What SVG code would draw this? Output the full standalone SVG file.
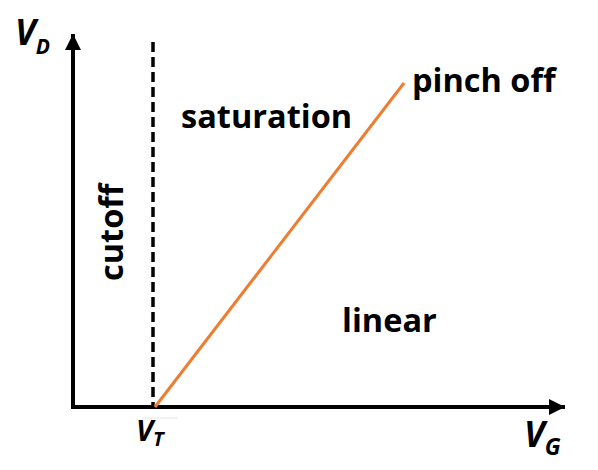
<svg xmlns="http://www.w3.org/2000/svg" width="598" height="470" viewBox="0 0 598 470">
<style>
.t{font-family:"Open Sans","Liberation Sans",sans-serif;font-weight:bold;fill:#000}
.v{font-style:italic}
.l{font-size:32.5px}
</style>
<defs>
<marker id="ah" markerWidth="18" markerHeight="16" refX="16" refY="8" orient="auto" markerUnits="userSpaceOnUse">
<path d="M0,0 L16,8 L0,16 Z" fill="#000"/>
</marker>
</defs>
<rect width="598" height="470" fill="#fff"/>
<g id="connectors">
<line x1="73" y1="407" x2="73" y2="34" stroke="#000" stroke-width="4" marker-end="url(#ah)"/>
<line x1="71" y1="407" x2="565" y2="407" stroke="#000" stroke-width="4" marker-end="url(#ah)"/>
<line x1="153" y1="42" x2="153" y2="405" stroke="#000" stroke-width="3.5" stroke-dasharray="10,5"/>
<line x1="155" y1="407" x2="404" y2="83" stroke="#ED7D31" stroke-width="3"/>
<line x1="142" y1="418" x2="178" y2="418" stroke="#e4e4e4" stroke-width="1"/>
</g>
<g id="vd"><text class="t v" x="15" y="45"><tspan font-size="35px">V</tspan><tspan font-size="21px" dy="9">D</tspan></text></g>
<g id="vt"><text class="t v" x="136" y="441"><tspan font-size="29px">V</tspan><tspan font-size="20px" dy="5">T</tspan></text></g>
<g id="vg"><text class="t v" x="524" y="447"><tspan font-size="35px">V</tspan><tspan font-size="23px" dy="8">G</tspan></text></g>
<g id="pinch"><text class="t l" x="412" y="92">pinch off</text></g>
<g id="sat"><text class="t l" x="181" y="128">saturation</text></g>
<g id="cut"><text class="t l" transform="translate(123,281) rotate(-90)">cutoff</text></g>
<g id="lin"><text class="t l" x="342" y="332">linear</text></g>
</svg>
